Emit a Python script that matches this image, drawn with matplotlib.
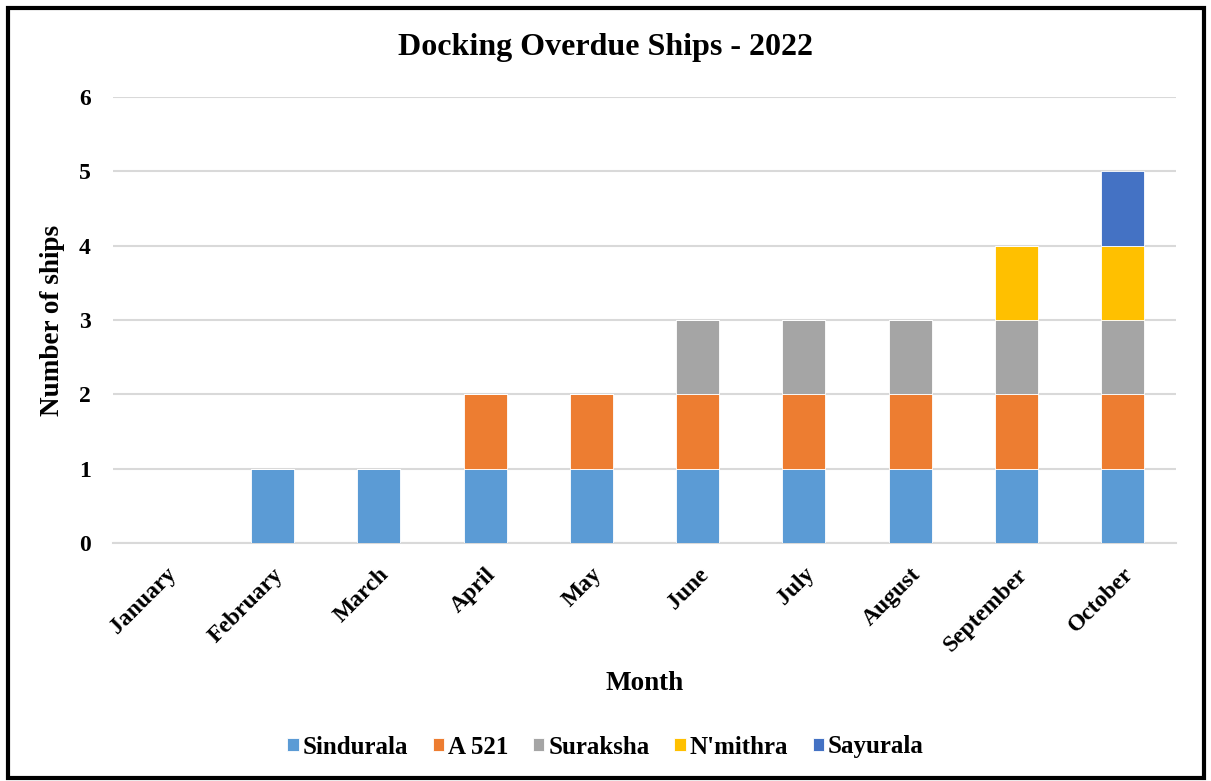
import numpy as np
import matplotlib.pyplot as plt
from matplotlib.patches import Rectangle

months = ['January', 'February', 'March', 'April', 'May', 'June',
          'July', 'August', 'September', 'October']
ships = ['Sindurala', 'A 521', 'Suraksha', "N'mithra", 'Sayurala']
sindurala = [0, 1, 1, 1, 1, 1, 1, 1, 1, 1]
a521 = [0, 0, 0, 1, 1, 1, 1, 1, 1, 1]
suraksha = [0, 0, 0, 0, 0, 1, 1, 1, 1, 1]
nmithra = [0, 0, 0, 0, 0, 0, 0, 0, 1, 1]
sayurala = [0, 0, 0, 0, 0, 0, 0, 0, 0, 1]
colors = ['#5B9BD5', '#ED7D31', '#A5A5A5', '#FFC000', '#4472C4']

plt.rcParams['font.family'] = ['Liberation Serif', 'DejaVu Serif']
plt.rcParams['font.weight'] = 'bold'

fig = plt.figure(figsize=(12.11, 7.81), dpi=100)
ax = fig.add_axes([113 / 1211, 1 - 543 / 781, (1176 - 113) / 1211, (543 - 97) / 781])

x = np.arange(len(months))
bottom = np.zeros(len(months))
for name, vals, c in zip(ships, [sindurala, a521, suraksha, nmithra, sayurala], colors):
    ax.bar(x, vals, width=0.405, bottom=bottom, color=c, label=name,
           edgecolor='white', linewidth=0.6, zorder=3)
    bottom += np.array(vals)

ax.set_xlim(-0.5, 9.5)
ax.set_ylim(0, 6)
ax.set_yticks(range(7))
ax.grid(axis='y', color='#D9D9D9', linewidth=1.5, zorder=0)
for s in ['top', 'right', 'left']:
    ax.spines[s].set_visible(False)
ax.spines['bottom'].set_color('#D9D9D9')
ax.spines['bottom'].set_linewidth(1.5)
ax.tick_params(axis='both', length=0, labelsize=17)
ax.tick_params(axis='y', pad=16)
ax.tick_params(axis='x', pad=15)
ax.set_xticks(x)
ax.set_xticklabels(months, rotation=45, ha='right', rotation_mode='anchor',
                   fontweight='bold')
for lbl in ax.get_yticklabels():
    lbl.set_fontweight('bold')

ax.set_xlabel('Month', fontsize=19.5, fontweight='bold', labelpad=11)
ax.set_ylabel('Number of ships', fontsize=19.5, fontweight='bold', labelpad=10)
fig.text(0.5, 1 - 47 / 781, 'Docking Overdue Ships - 2022', ha='center',
         va='center', fontsize=23, fontweight='bold')

fig.legend(loc='center', bbox_to_anchor=(0.5, 1 - 747 / 781), ncol=5,
           frameon=False, handlelength=0.45, handleheight=0.45,
           handletextpad=0.15, columnspacing=1.0,
           prop={'weight': 'bold', 'size': 18})

fig.patches.append(Rectangle((8 / 1211, 3 / 781), 1196 / 1211, 770 / 781,
                             transform=fig.transFigure, fill=False,
                             edgecolor='black', linewidth=3))

fig.savefig('out.png', dpi=100)
